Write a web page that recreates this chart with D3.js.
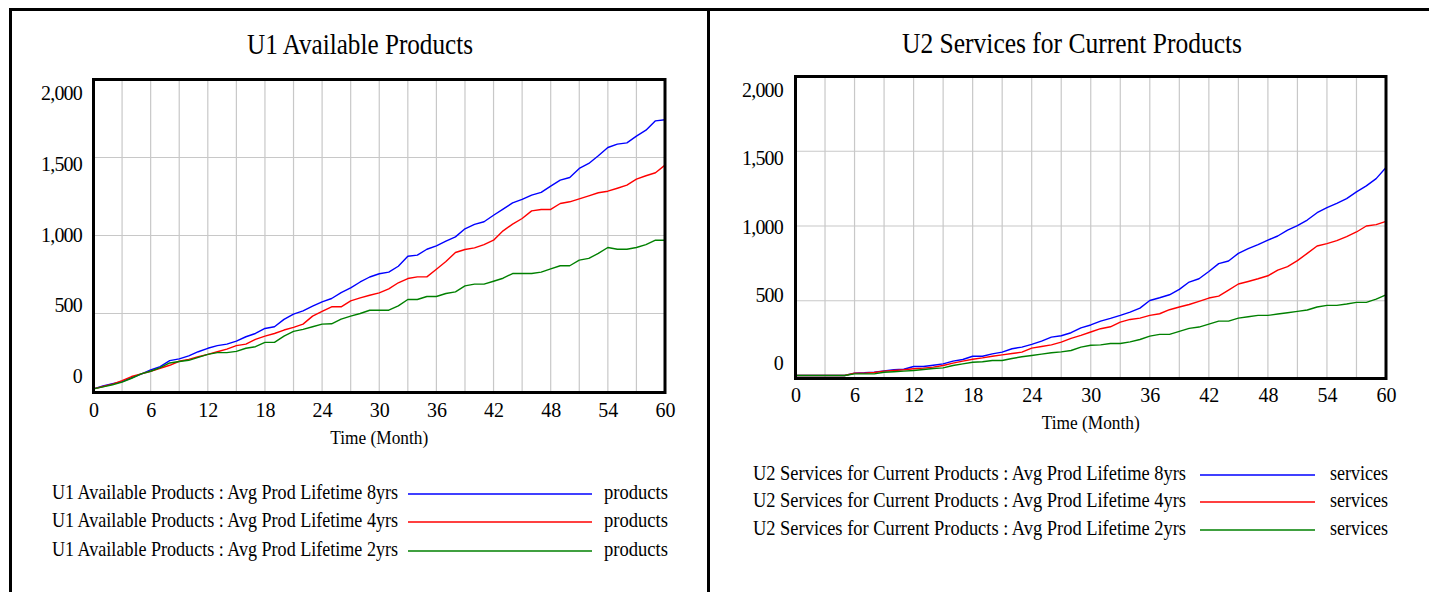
<!DOCTYPE html>
<html>
<head>
<meta charset="utf-8">
<script src="https://cdn.jsdelivr.net/npm/d3@7"></script>
<style>
  html, body { margin: 0; padding: 0; background: #fff; }
  svg { display: block; }
  text { font-family: "Liberation Serif", "Times New Roman", serif; fill: #000; }
</style>
</head>
<body>
<svg id="chart" width="1429" height="592"></svg>
<script>
// ---------- DATA ----------
const months = d3.range(0, 61);            // Time (Month) 0..60
const xTickValues = [0, 6, 12, 18, 24, 30, 36, 42, 48, 54, 60];
const yTickValues = [0, 500, 1000, 1500, 2000];

const u1Title = "U1 Available Products";
const u1Legend = [
  "U1 Available Products : Avg Prod Lifetime 8yrs",
  "U1 Available Products : Avg Prod Lifetime 4yrs",
  "U1 Available Products : Avg Prod Lifetime 2yrs"
];
const u1Unit = "products";
const u1_8yrs = [17,35,50,63,88,112,138,160,198,209,228,255,277,294,304,323,351,372,404,415,462,496,517,547,575,596,634,664,702,734,755,765,803,867,874,912,934,964,991,1043,1071,1088,1130,1169,1209,1231,1259,1276,1316,1355,1372,1430,1462,1511,1564,1586,1594,1637,1675,1735,1742];
const u1_4yrs = [17,32,47,70,96,113,130,149,168,194,206,223,238,255,272,294,304,334,355,372,394,411,432,483,513,543,543,581,600,617,632,658,697,724,735,735,784,833,891,910,921,942,970,1030,1073,1109,1158,1167,1167,1205,1216,1235,1254,1274,1284,1303,1323,1361,1383,1402,1451];
const u1_2yrs = [17,30,43,60,85,113,130,153,183,192,200,219,238,249,249,257,277,287,315,315,355,385,398,415,432,434,464,483,500,521,521,521,549,590,590,609,609,628,639,677,688,688,707,726,756,756,756,765,786,806,806,842,853,885,923,912,912,923,942,970,970];

const u2Title = "U2 Services for Current Products";
const u2Legend = [
  "U2 Services for Current Products : Avg Prod Lifetime 8yrs",
  "U2 Services for Current Products : Avg Prod Lifetime 4yrs",
  "U2 Services for Current Products : Avg Prod Lifetime 2yrs"
];
const u2Unit = "services";
const u2_8yrs = [0,0,0,0,0,0,16,18,22,31,38,42,60,60,69,78,96,107,129,129,145,156,179,190,208,230,257,266,286,319,338,364,382,402,424,451,502,520,540,576,625,647,696,748,766,817,848,875,906,933,973,1002,1040,1089,1123,1152,1183,1228,1268,1317,1391];
const u2_4yrs = [0,0,0,0,0,0,16,16,20,29,33,38,45,49,56,67,83,96,109,118,129,138,147,156,183,194,205,223,248,268,291,313,326,357,375,384,402,413,440,458,475,496,518,531,571,612,629,647,667,705,728,768,817,866,882,902,929,960,1000,1009,1031];
const u2_2yrs = [0,0,0,0,0,0,11,11,11,22,25,29,33,40,47,51,67,78,89,92,100,100,114,125,134,143,152,158,167,190,202,205,214,214,225,241,263,275,275,295,315,324,344,364,364,384,393,402,402,411,420,429,438,458,469,469,478,489,489,511,540];

const seriesColors = ["#0000ff", "#ff0000", "#008000"];

// ---------- DRAW ----------
const svg = d3.select("#chart");

// outer frame lines
const frame = svg.append("g").attr("stroke", "#000").attr("stroke-width", 3);
frame.append("line").attr("x1", 9).attr("x2", 1429).attr("y1", 9.5).attr("y2", 9.5);
frame.append("line").attr("x1", 10.5).attr("x2", 10.5).attr("y1", 8).attr("y2", 592);
frame.append("line").attr("x1", 708.5).attr("x2", 708.5).attr("y1", 8).attr("y2", 592);

function squeezed(g, x, y, txt, size, len, anchor) {
  return g.append("text")
    .attr("x", x).attr("y", y)
    .attr("text-anchor", anchor || "start")
    .attr("dominant-baseline", "middle")
    .attr("font-size", size)
    .attr("textLength", len)
    .attr("lengthAdjust", "spacingAndGlyphs")
    .text(txt);
}

function panel(cfg) {
  const g = svg.append("g");
  const x = d3.scaleLinear().domain([0, 60]).range([cfg.left, cfg.right]);
  const y = d3.scaleLinear().domain([0, 2000]).range([cfg.zeroY, cfg.top]);
  const yLab = d3.scaleLinear().domain([0, 2000]).range([cfg.labZero, cfg.labTop]);

  // title
  squeezed(g, cfg.titleX, cfg.titleY, cfg.title, 30, cfg.titleLen, "middle");

  // grid
  const grid = g.append("g").attr("stroke", "#c8c8c8").attr("stroke-width", 1.2);
  grid.selectAll("line.v").data(d3.range(3, 60, 3)).join("line")
    .attr("class", "v")
    .attr("x1", d => x(d)).attr("x2", d => x(d))
    .attr("y1", cfg.top).attr("y2", cfg.bottom);
  grid.selectAll("line.h").data([500, 1000, 1500]).join("line")
    .attr("class", "h")
    .attr("x1", cfg.left).attr("x2", cfg.right)
    .attr("y1", d => y(d)).attr("y2", d => y(d));

  // series
  const line = d3.line().x((d, i) => x(months[i])).y(d => y(d));
  cfg.series.forEach((s, i) => {
    g.append("path").datum(s)
      .attr("fill", "none")
      .attr("stroke", seriesColors[i])
      .attr("stroke-width", 1.4)
      .attr("stroke-linejoin", "round")
      .attr("d", line);
  });

  // plot frame
  g.append("rect")
    .attr("x", cfg.left).attr("y", cfg.top)
    .attr("width", cfg.right - cfg.left).attr("height", cfg.bottom - cfg.top)
    .attr("fill", "none").attr("stroke", "#000").attr("stroke-width", 3);

  // x axis labels
  const xAxis = d3.axisBottom(x).tickValues(xTickValues).tickSize(0).tickPadding(0)
    .tickFormat(d3.format("d"));
  const xa = g.append("g").attr("transform", `translate(0,${cfg.xLabY})`).call(xAxis);
  xa.select(".domain").remove();
  xa.selectAll("text").attr("font-size", 20).attr("dy", null)
    .attr("dominant-baseline", "middle").attr("fill", "#000")
    .style("font-family", '"Liberation Serif", "Times New Roman", serif');

  // y axis labels
  const yAxis = d3.axisLeft(yLab).tickValues(yTickValues).tickSize(0).tickPadding(0)
    .tickFormat(d3.format(","));
  const ya = g.append("g").attr("transform", `translate(${cfg.yLabX},0)`).call(yAxis);
  ya.select(".domain").remove();
  ya.selectAll("text").attr("font-size", 20).attr("dy", null).attr("x", 0)
    .attr("dominant-baseline", "middle").attr("letter-spacing", "-0.8px").attr("fill", "#000")
    .style("font-family", '"Liberation Serif", "Times New Roman", serif');

  // x axis title
  squeezed(g, (cfg.left + cfg.right) / 2, cfg.xTitleY, "Time (Month)", 19, 98, "middle");

  // legend
  cfg.legend.forEach((label, i) => {
    const ly = cfg.legY[i];
    squeezed(g, cfg.legTextX, ly, label, 21, cfg.legLen);
    g.append("line")
      .attr("x1", cfg.legLine[0]).attr("x2", cfg.legLine[1])
      .attr("y1", ly).attr("y2", ly)
      .attr("stroke", seriesColors[i]).attr("stroke-width", 1.4);
    squeezed(g, cfg.legUnitX, ly, cfg.unit, 21, cfg.unitLen);
  });
}

panel({
  title: u1Title, titleX: 360, titleY: 47, titleLen: 226,
  left: 93.5, right: 665, top: 79.5, zeroY: 391.5, bottom: 392.5,
  labZero: 378, labTop: 95, yLabX: 82,
  xLabY: 412, xTitleY: 440,
  series: [u1_8yrs, u1_4yrs, u1_2yrs],
  legend: u1Legend, unit: u1Unit,
  legY: [494, 522, 551], legTextX: 52, legLen: 346, legLine: [408, 592], legUnitX: 604, unitLen: 64
});

panel({
  title: u2Title, titleX: 1072, titleY: 46, titleLen: 340,
  left: 795.5, right: 1386, top: 76.5, zeroY: 375.5, bottom: 378.5,
  labZero: 365, labTop: 92, yLabX: 783,
  xLabY: 397, xTitleY: 425,
  series: [u2_8yrs, u2_4yrs, u2_2yrs],
  legend: u2Legend, unit: u2Unit,
  legY: [475, 502, 530], legTextX: 753, legLen: 433, legLine: [1200, 1315], legUnitX: 1330, unitLen: 58
});
</script>
</body>
</html>
